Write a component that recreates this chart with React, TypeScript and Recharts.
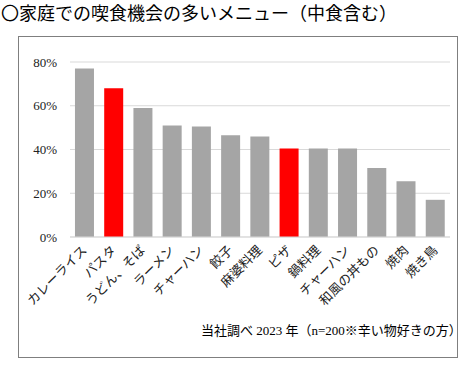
import { Bar, BarChart, CartesianGrid, Cell, XAxis, YAxis } from "recharts";

const categories = ["カレーライス", "パスタ", "うどん、そば", "ラーメン", "チャーハン", "餃子", "麻婆料理", "ピザ", "鍋料理", "チャーハン", "和風の丼もの", "焼肉", "焼き鳥"];
const shares = [0.77, 0.68, 0.59, 0.51, 0.505, 0.465, 0.46, 0.405, 0.405, 0.405, 0.315, 0.255, 0.17];
const highlighted = [false, true, false, false, false, false, false, true, false, false, false, false, false];
const yTicks = [0, 0.2, 0.4, 0.6, 0.8];

const title = "〇家庭での喫食機会の多いメニュー（中食含む）";
const source = "当社調べ 2023 年（n=200※辛い物好きの方）";

const data = categories.map((name, i) => ({ name, share: shares[i], hot: highlighted[i] }));

const jpFont = '"Liberation Serif", "Noto Sans CJK JP", serif';

function SlantTick({ x, y, payload }: any) {
    const ex = x + 3;
    const ey = y + 6;
    return (
        <text x={ex} y={ey} textAnchor="end" fontSize={13} fill="#222" fontFamily={jpFont} transform={`rotate(-45, ${ex}, ${ey})`}>
            {payload.value}
        </text>
    );
}

export default function App() {
    return (
        <div style={{ position: 'absolute', left: 0, top: 0, width: 470, height: 371, background: '#fff', fontFamily: jpFont }}>
            <div style={{ position: 'absolute', left: 1, top: 2, fontSize: 18, lineHeight: '24px', color: '#000', whiteSpace: 'nowrap' }}>{title}</div>
            <div style={{ position: 'absolute', left: 18, top: 36, width: 438, height: 320, border: '1px solid #7f7f7f' }} />
            <div style={{ position: 'absolute', left: 0, top: 0 }}>
                <BarChart width={470} height={371} data={data} margin={{ top: 62, right: 20, bottom: 24, left: 10 }} barCategoryGap="17%">
                    <CartesianGrid vertical={false} stroke="#d9d9d9" />
                    <XAxis dataKey="name" interval={0} tickLine={false} axisLine={{ stroke: '#d9d9d9' }} height={110} tick={<SlantTick />} />
                    <YAxis domain={[0, 0.8]} ticks={yTicks} width={60} axisLine={false} tickLine={false} tickMargin={7}
                        tickFormatter={(v: number) => `${Math.round(v * 100)}%`}
                        tick={{ fontSize: 13, fill: '#222', fontFamily: '"Liberation Serif", serif' }} />
                    <Bar dataKey="share" isAnimationActive={false}>
                        {data.map((d, i) => <Cell key={i} fill={d.hot ? '#ff0000' : '#a5a5a5'} />)}
                    </Bar>
                </BarChart>
            </div>
            <div style={{ position: 'absolute', left: 201, top: 322, fontSize: 13, lineHeight: '18px', color: '#000', whiteSpace: 'nowrap' }}>{source}</div>
        </div>
    );
}
